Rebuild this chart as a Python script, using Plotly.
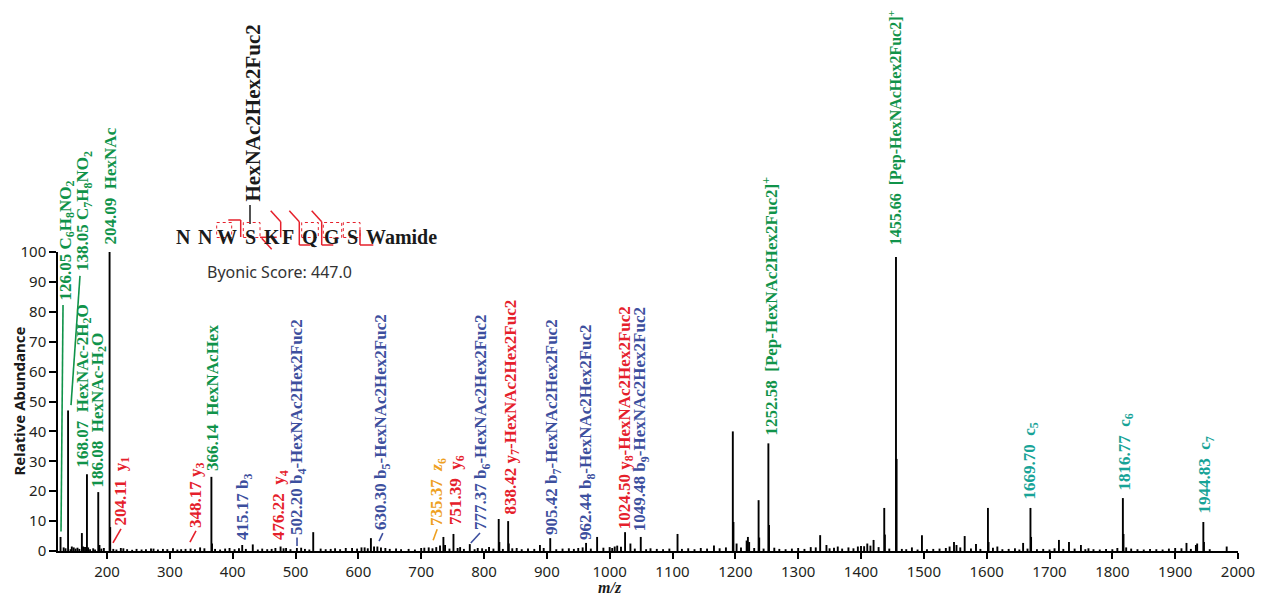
import plotly.graph_objects as go

# ---------------- data ----------------
peak_mz = [126.05, 138.05, 144, 147, 160, 162, 168.07, 170, 186.08, 188,
           204.09, 205.09, 222, 274, 348.17, 366.14, 367.14, 415.17, 432, 476.22,
           485, 502.20, 528.2, 590, 610, 620, 625, 630.30, 636, 700,
           712, 730, 735.37, 738, 751.39, 762, 777.37, 790, 808, 823.4,
           824.4, 838.42, 839.4, 852, 889, 905.42, 950, 962.44, 980, 1008,
           1012, 1024.50, 1033, 1049.48, 1108, 1166, 1196, 1197, 1202, 1209,
           1218, 1220, 1222, 1237, 1238, 1252.58, 1253.58, 1335, 1345, 1363,
           1395, 1400, 1410, 1420, 1437, 1438, 1455.66, 1456.66, 1481, 1497,
           1548, 1552, 1565, 1583, 1602, 1603, 1617, 1658, 1669.70, 1670.70,
           1715, 1731, 1750, 1808, 1816.77, 1817.77, 1822, 1900, 1918, 1933,
           1935, 1944.83, 1945.83, 1982]
peak_int = [4.7, 47, 1.5, 1.2, 6, 1.5, 25.7, 1.2, 19.7, 2,
            100, 8, 1, 0.8, 1.2, 24.8, 2.5, 2, 2.2, 1.5,
            1, 1, 6.3, 1, 1.2, 4.3, 1.5, 1.5, 1.2, 1,
            1.2, 1.8, 4.7, 2, 5.7, 1.3, 2.3, 1, 1.3, 10.7,
            3, 10, 2.5, 1, 2, 4.3, 1, 2.7, 4.7, 1.5,
            1.8, 6.3, 2.5, 4.7, 5.7, 1.8, 40, 9.7, 2.5, 1.2,
            3.5, 4.7, 3, 17, 4.5, 36, 8.7, 5.3, 2, 1.5,
            1.5, 1.7, 2.5, 3.7, 14.4, 5.5, 98.3, 30.8, 1.2, 5.3,
            3, 2, 5, 2.3, 14.4, 3, 1.5, 2.7, 14.4, 4.7,
            3.7, 3, 2, 1, 17.7, 5.7, 1.2, 1, 2.7, 2,
            2.5, 9.7, 3, 1.5]

noise_mz = [
    131, 134, 142, 150, 153, 156, 165, 173, 178, 181,
    191, 195, 210, 215, 226, 232, 240, 247, 255, 262,
    270, 281, 289, 296, 305, 312, 318, 325, 333, 340,
    355, 372, 380, 388, 395, 403, 410, 421, 440, 447,
    455, 462, 468, 481, 492, 509, 515, 522, 540, 548,
    556, 563, 571, 580, 598, 605, 615, 643, 650, 660,
    668, 680, 690, 705, 718, 724, 745, 758, 768, 785,
    797, 803, 815, 830, 845, 860, 870, 880, 895, 915,
    925, 935, 943, 957, 970, 990, 1000, 1004, 1018, 1040,
    1058, 1065, 1075, 1085, 1095, 1115, 1125, 1135, 1145, 1155,
    1175, 1185, 1230, 1245, 1262, 1270, 1280, 1290, 1300, 1310,
    1320, 1328, 1350, 1357, 1370, 1380, 1388, 1405, 1415, 1428,
    1445, 1465, 1472, 1490, 1505, 1515, 1525, 1535, 1541, 1558,
    1575, 1590, 1610, 1625, 1635, 1645, 1652, 1665, 1680, 1690,
    1700, 1708, 1722, 1740, 1757, 1762, 1770, 1780, 1790, 1800,
    1830, 1840, 1850, 1860, 1870, 1880, 1890, 1910, 1925, 1955,
]
noise_int = [
    1.2, 0.9, 0.6, 0.8, 1.1, 0.7, 1.3, 0.6, 0.9, 0.5,
    0.8, 1.0, 0.7, 0.5, 0.9, 0.6, 0.4, 0.7, 0.5, 0.6,
    0.8, 0.5, 0.7, 0.6, 0.9, 0.5, 0.6, 0.7, 0.8, 0.6,
    0.9, 0.7, 0.5, 0.8, 1.0, 0.6, 0.9, 0.7, 0.5, 0.8,
    0.6, 0.7, 1.0, 0.9, 0.6, 1.1, 0.7, 0.5, 0.8, 0.6,
    0.7, 0.9, 0.6, 1.0, 0.8, 1.2, 0.9, 1.0, 0.7, 0.8,
    0.6, 0.7, 0.5, 1.1, 0.9, 1.3, 0.8, 1.0, 0.7, 0.6,
    0.9, 0.6, 0.8, 0.7, 0.9, 0.6, 0.8, 0.7, 1.0, 0.6,
    0.8, 0.9, 0.7, 1.2, 0.8, 1.1, 1.3, 1.0, 1.4, 0.8,
    0.6, 0.9, 0.7, 0.6, 0.8, 0.7, 0.9, 0.6, 1.0, 0.8,
    0.9, 1.2, 1.0, 0.8, 1.1, 0.7, 0.6, 0.8, 1.0, 0.7,
    1.3, 1.2, 0.9, 1.1, 0.8, 1.2, 0.9, 1.6, 1.8, 1.3,
    0.8, 0.7, 0.6, 0.5, 0.6, 0.7, 0.8, 1.0, 1.5, 1.2,
    0.8, 0.7, 1.1, 0.6, 0.7, 0.9, 0.5, 0.8, 0.6, 0.7,
    0.5, 0.9, 0.7, 0.8, 0.6, 0.9, 0.6, 0.5, 0.7, 0.6,
    0.8, 0.6, 0.5, 0.7, 0.6, 0.5, 0.8, 0.9, 0.7, 0.6,
]

NB = "\u00a0"
# peak labels: text, ion type
label_texts = [
    "126.05 C<sub>6</sub>H<sub>8</sub>NO<sub>2</sub>",
    "138.05 C<sub>7</sub>H<sub>8</sub>NO<sub>2</sub>",
    "168.07 " + NB + "HexNAc-2H<sub>2</sub>O",
    "186.08 " + NB + "HexNAc-H<sub>2</sub>O",
    "204.09 " + NB + "HexNAc",
    "204.11 " + NB + "y<sub>1</sub>",
    "348.17 y<sub>3</sub>",
    "366.14 " + NB + "HexNAcHex",
    "415.17 b<sub>3</sub>",
    "476.22 " + NB + "y<sub>4</sub>",
    "502.20 b<sub>4</sub>-HexNAc2Hex2Fuc2",
    "630.30 b<sub>5</sub>-HexNAc2Hex2Fuc2",
    "735.37 " + NB + "<i>z</i><sub>6</sub>",
    "751.39 " + NB + "y<sub>6</sub>",
    "777.37 b<sub>6</sub>-HexNAc2Hex2Fuc2",
    "838.42 y<sub>7</sub>-HexNAc2Hex2Fuc2",
    "905.42 b<sub>7</sub>-HexNAc2Hex2Fuc2",
    "962.44 b<sub>8</sub>-HexNAc2Hex2Fuc2",
    "1024.50 y<sub>8</sub>-HexNAc2Hex2Fuc2",
    "1049.48 b<sub>9</sub>-HexNAc2Hex2Fuc2",
    "1252.58 " + NB + "[Pep-HexNAc2Hex2Fuc2]<sup>+</sup>",
    "1455.66 " + NB + "[Pep-HexNAcHex2Fuc2]<sup>+</sup>",
    "1669.70 " + NB + "c<sub>5</sub>",
    "1816.77 " + NB + "c<sub>6</sub>",
    "1944.83 " + NB + "c<sub>7</sub>",
]
label_types = ["oxo", "oxo", "oxo", "oxo", "oxo", "y", "y", "oxo", "b", "y",
               "b", "b", "z", "y", "b", "y", "b", "b", "y", "b",
               "oxo", "oxo", "c", "c", "c"]

sequence = ["N", "N", "W", "S", "K", "F", "Q", "G", "S", "Wamide"]
glycan = "HexNAc2Hex2Fuc2"
score_text = "Byonic Score: 447.0"

# ---------------- styling ----------------
colors = {"oxo": "#10934a", "y": "#e5202b", "b": "#3d4f9e", "z": "#eea021", "c": "#17a397"}

# label anchor positions (x in m/z, y in % of axis) -- layout only
label_pos = [
    (135.5, 83.3), (163.4, 93.0), (163.4, 27.1), (185.7, 20.4), (204.8, 101.7),
    (223.9, 7.7), (343.2, 7.0), (368.7, 26.1), (418.0, 3.0), (475.3, 3.0),
    (504.0, 4.7), (637.7, 6.4), (726.8, 7.7), (757.0, 8.0), (797.0, 6.4),
    (844.6, 11.4), (909.8, 4.7), (964.0, 3.0), (1026.0, 6.4), (1050.0, 6.0),
    (1255.0, 38.1), (1454.0, 101.7), (1670.6, 16.4), (1821.8, 19.4), (1949.0, 12.0),
]
label_sizes = [17] * 20 + [17, 16, 17, 17, 17]
# leader lines (x0,y0,x1,y1,type)
leaders = [
    (130.0, 82.3, 126.8, 6.5, "oxo"),
    (157.0, 92.0, 142.7, 48.8, "oxo"),
    (209.5, 2.7, 222.3, 7.4, "y"),
    (332.0, 3.0, 341.6, 6.7, "y"),
    (502.4, 1.7, 502.4, 4.5, "b"),
    (633.0, 3.3, 639.0, 6.0, "b"),
    (719.0, 3.6, 725.5, 7.3, "z"),
    (779.0, 2.7, 793.6, 6.0, "b"),
]

X0, X1 = 122, 2000
Y0, Y1 = 0, 100
L, R, T, B = 58, 34, 252, 51
W, H = 1272, 602
PW, PH = W - L - R, H - T - B


def px(xpix):
    return (xpix - L) / PW


def py(ypix):
    return (H - B - ypix) / PH


def dx(v):
    return (v - X0) / (X1 - X0)


def dy(v):
    return (v - Y0) / (Y1 - Y0)


xs, ys = [], []
for m, v in list(zip(noise_mz, noise_int)) + list(zip(peak_mz, peak_int)):
    xs += [m, m, None]
    ys += [0, v, None]

fig = go.Figure()
fig.add_trace(go.Scatter(x=xs, y=ys, mode="lines",
                         line=dict(color="black", width=1.9),
                         hoverinfo="skip", showlegend=False))

serif = "Liberation Serif, Times New Roman, serif"
sans = "Noto Sans, Open Sans, Arial, sans-serif"

annotations = []
for txt, typ, (lx, ly), fs in zip(label_texts, label_types, label_pos, label_sizes):
    annotations.append(dict(x=dx(lx), y=dy(ly), xref="paper", yref="paper", text=txt,
                            showarrow=False, textangle=-90, xanchor="center", yanchor="bottom",
                            font=dict(family=serif, size=fs, color=colors[typ], weight="bold")))

shapes = []
for x0, y0, x1, y1, typ in leaders:
    shapes.append(dict(type="line", xref="x", yref="y", x0=x0, y0=y0, x1=x1, y1=y1,
                       line=dict(color=colors[typ], width=1.6)))

# peptide sequence
seq_x = [183, 205, 227, 250, 272, 288, 310, 332, 352, 401]
for res, sx in zip(sequence, seq_x):
    annotations.append(dict(x=px(sx), y=py(237), xref="paper", yref="paper", text=res,
                            showarrow=False, xanchor="center", yanchor="middle",
                            font=dict(family=serif, size=20, color="#1a1a1a", weight="bold")))
annotations.append(dict(x=px(252), y=py(204), xref="paper", yref="paper", text=glycan,
                        showarrow=False, textangle=-90, xanchor="center", yanchor="bottom",
                        font=dict(family=serif, size=21, color="#1a1a1a", weight="bold")))
annotations.append(dict(x=px(279), y=py(272), xref="paper", yref="paper", text=score_text,
                        showarrow=False, xanchor="center", yanchor="middle",
                        font=dict(family=sans, size=16, color="#333333")))
shapes.append(dict(type="line", xref="paper", yref="paper", x0=px(250), x1=px(250),
                   y0=py(205), y1=py(224), line=dict(color="#1a1a1a", width=1.5)))

red = "#e5202b"
dotted_boxes = [(216.7, 231.7), (243.3, 260.0), (301.7, 318.3), (323.3, 341.7), (343.3, 360.0)]
for bx0, bx1 in dotted_boxes:
    shapes.append(dict(type="rect", xref="paper", yref="paper", x0=px(bx0), x1=px(bx1),
                       y0=py(237.5), y1=py(222.5), line=dict(color=red, width=1, dash="dot")))
solid_segments = [
    (228.3, 220.0, 240.7, 220.0), (240.7, 220.0, 240.7, 237.0),
    (260.0, 237.3, 276.7, 237.3), (261.7, 238.3, 271.7, 249.3),
    (270.7, 210.7, 280.7, 221.7), (280.7, 221.7, 280.7, 237.3),
    (289.3, 210.7, 299.3, 221.7), (299.3, 221.7, 299.3, 245.0), (299.3, 245.0, 310.0, 245.0),
    (311.7, 210.7, 321.7, 221.7), (321.7, 221.7, 321.7, 245.0), (321.7, 245.0, 333.3, 245.0),
    (360.0, 230.0, 360.0, 245.0), (360.0, 245.0, 373.3, 245.0),
]
for sx0, sy0, sx1, sy1 in solid_segments:
    shapes.append(dict(type="line", xref="paper", yref="paper", x0=px(sx0), y0=py(sy0),
                       x1=px(sx1), y1=py(sy1), line=dict(color=red, width=1.5)))

# axis titles
annotations.append(dict(x=dx(1000), y=py(587), xref="paper", yref="paper", text="<b><i>m/z</i></b>",
                        showarrow=False, xanchor="center", yanchor="middle",
                        font=dict(family=serif, size=16, color="#1a1a1a")))
annotations.append(dict(x=px(18), y=0.5, xref="paper", yref="paper", text="Relative Abundance",
                        showarrow=False, textangle=-90, xanchor="center", yanchor="middle",
                        font=dict(family=sans, size=15, color="#1a1a1a", weight="bold")))

fig.update_layout(
    width=W, height=H,
    margin=dict(l=L, r=R, t=T, b=B, autoexpand=False),
    paper_bgcolor="white", plot_bgcolor="white",
    annotations=annotations, shapes=shapes,
    xaxis=dict(range=[X0, X1], tickmode="array", tickvals=list(range(200, 2001, 100)),
               showline=True, linecolor="black", linewidth=1.5, ticks="outside",
               ticklen=6, tickwidth=1.5, tickcolor="black", showgrid=False, zeroline=False,
               automargin=False,
               tickfont=dict(family=sans, size=15, color="#231f20")),
    yaxis=dict(range=[Y0, Y1], tickmode="array", tickvals=list(range(0, 101, 10)),
               showline=True, linecolor="black", linewidth=1.5, ticks="outside",
               ticklen=7, tickwidth=1.5, tickcolor="black", showgrid=False, zeroline=False,
               automargin=False,
               tickfont=dict(family=sans, size=15, color="#231f20")),
)

fig.write_html(
    "out.html",
    config={"displayModeBar": False},
    post_script="document.body.style.margin='0px';document.body.style.padding='0px';"
                "document.body.style.overflow='hidden';",
)
